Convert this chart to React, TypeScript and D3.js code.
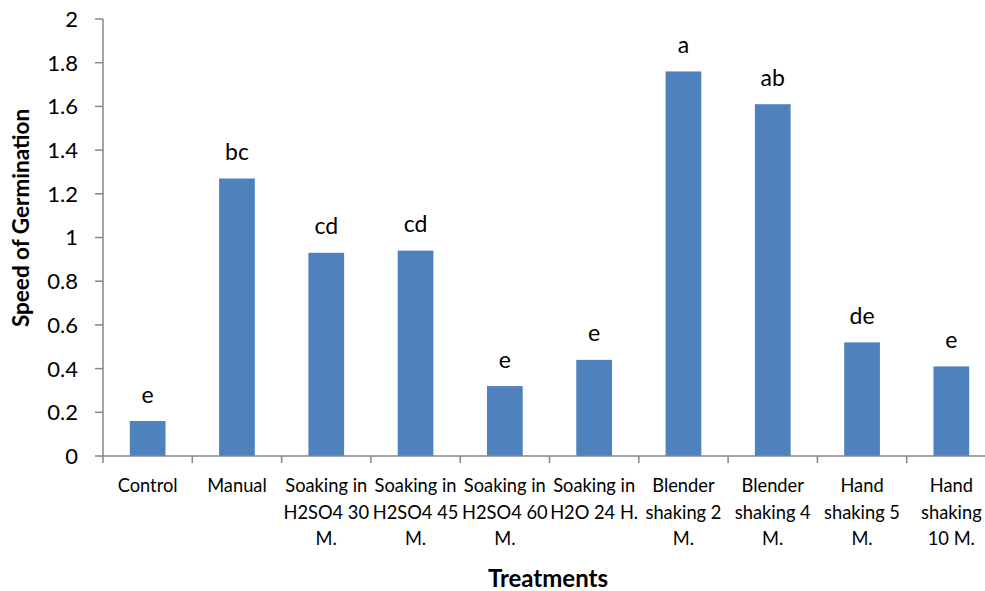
import React from "react";
import * as d3 from "d3";

const categories = [
  "Control",
  "Manual",
  "Soaking in H2SO4 30 M.",
  "Soaking in H2SO4 45 M.",
  "Soaking in H2SO4 60 M.",
  "Soaking in H2O 24 H.",
  "Blender shaking 2 M.",
  "Blender shaking 4 M.",
  "Hand shaking 5 M.",
  "Hand shaking 10 M.",
];
const categoryLines = [
  ["Control"],
  ["Manual"],
  ["Soaking in", "H2SO4 30", "M."],
  ["Soaking in", "H2SO4 45", "M."],
  ["Soaking in", "H2SO4 60", "M."],
  ["Soaking in", "H2O 24 H."],
  ["Blender", "shaking 2", "M."],
  ["Blender", "shaking 4", "M."],
  ["Hand", "shaking 5", "M."],
  ["Hand", "shaking", "10 M."],
];
const values = [0.16, 1.27, 0.93, 0.94, 0.32, 0.44, 1.76, 1.61, 0.52, 0.41];
const letters = ["e", "bc", "cd", "cd", "e", "e", "a", "ab", "de", "e"];
const yTicks = [0, 0.2, 0.4, 0.6, 0.8, 1, 1.2, 1.4, 1.6, 1.8, 2];

const W = 985;
const H = 591;
const left = 103;
const right = 996;
const top = 19;
const bottom = 456;
const FONT = "Lato, 'Open Sans', sans-serif";
const AXIS = "#868686";

export default function App() {
  const x = d3.scaleBand<string>().domain(categories).range([left, right]).paddingInner(0.6).paddingOuter(0.3);
  const xb = d3.scaleBand<string>().domain(categories).range([left, right]);
  const y = d3.scaleLinear().domain([0, 2]).range([bottom, top]);

  return (
    <svg width={W} height={H} style={{ position: "absolute", left: 0, top: 0, background: "#fff" }} fontFamily={FONT}>
      <rect x={0} y={0} width={W} height={H} fill="#fff" />
      {/* bars */}
      {categories.map((c, i) => (
        <rect key={c} x={x(c)} y={y(values[i])} width={x.bandwidth()} height={y(0) - y(values[i])} fill="#4f81bd" />
      ))}
      {/* letters */}
      {categories.map((c, i) => (
        <text key={c + "l"} x={(x(c) as number) + x.bandwidth() / 2} y={y(values[i]) - 18.5} textAnchor="middle" fontSize={23} fill="#000">
          {letters[i]}
        </text>
      ))}
      {/* y axis */}
      <line x1={left} x2={left} y1={top} y2={bottom} stroke={AXIS} strokeWidth={1.5} />
      {yTicks.map((t) => (
        <g key={t}>
          <line x1={left - 8} x2={left} y1={y(t)} y2={y(t)} stroke={AXIS} strokeWidth={1.5} />
          <text x={78} y={y(t)} dy="0.36em" textAnchor="end" fontSize={22} fill="#000">
            {d3.format("~g")(t)}
          </text>
        </g>
      ))}
      {/* x axis */}
      <line x1={left} x2={right} y1={bottom} y2={bottom} stroke={AXIS} strokeWidth={1.5} />
      {categories.map((c) => (
        <line key={c + "t"} x1={xb(c)} x2={xb(c)} y1={bottom} y2={bottom + 7} stroke={AXIS} strokeWidth={1.5} />
      ))}
      <line x1={right} x2={right} y1={bottom} y2={bottom + 7} stroke={AXIS} strokeWidth={1.5} />
      {categories.map((c, i) => (
        <text key={c + "c"} x={(xb(c) as number) + xb.bandwidth() / 2} y={492} textAnchor="middle" fontSize={18.3} fill="#000">
          {categoryLines[i].map((ln, j) => (
            <tspan key={j} x={(xb(c) as number) + xb.bandwidth() / 2} y={492 + j * 26.7}>
              {ln}
            </tspan>
          ))}
        </text>
      ))}
      {/* titles */}
      <text x={548} y={587} textAnchor="middle" fontSize={24} fontWeight="bold" fill="#000">
        Treatments
      </text>
      <text transform={`translate(29, 218) rotate(-90)`} textAnchor="middle" fontSize={22.5} fontWeight="bold" fill="#000">
        Speed of Germination
      </text>
    </svg>
  );
}
